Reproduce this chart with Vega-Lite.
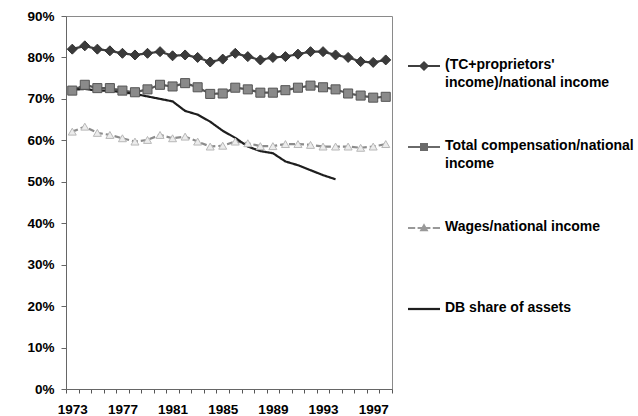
{
  "$schema": "https://vega.github.io/schema/vega-lite/v6.json",
  "width": 326,
  "height": 373,
  "autosize": {"type": "none"},
  "padding": {"left": 66, "top": 16, "right": 246, "bottom": 27},
  "background": "white",
  "config": {"view": {"stroke": "#8a8a8a", "strokeWidth": 1}, "font": "Liberation Sans"},
  "data": {"values": [
    {"y":1973,"s":"TCP","v":0.820},{"y":1974,"s":"TCP","v":0.828},{"y":1975,"s":"TCP","v":0.820},{"y":1976,"s":"TCP","v":0.816},{"y":1977,"s":"TCP","v":0.810},{"y":1978,"s":"TCP","v":0.806},{"y":1979,"s":"TCP","v":0.810},{"y":1980,"s":"TCP","v":0.814},{"y":1981,"s":"TCP","v":0.804},{"y":1982,"s":"TCP","v":0.806},{"y":1983,"s":"TCP","v":0.800},{"y":1984,"s":"TCP","v":0.789},{"y":1985,"s":"TCP","v":0.796},{"y":1986,"s":"TCP","v":0.810},{"y":1987,"s":"TCP","v":0.802},{"y":1988,"s":"TCP","v":0.794},{"y":1989,"s":"TCP","v":0.800},{"y":1990,"s":"TCP","v":0.802},{"y":1991,"s":"TCP","v":0.808},{"y":1992,"s":"TCP","v":0.814},{"y":1993,"s":"TCP","v":0.814},{"y":1994,"s":"TCP","v":0.806},{"y":1995,"s":"TCP","v":0.800},{"y":1996,"s":"TCP","v":0.790},{"y":1997,"s":"TCP","v":0.788},{"y":1998,"s":"TCP","v":0.794},
    {"y":1973,"s":"TC","v":0.720},{"y":1974,"s":"TC","v":0.734},{"y":1975,"s":"TC","v":0.726},{"y":1976,"s":"TC","v":0.726},{"y":1977,"s":"TC","v":0.720},{"y":1978,"s":"TC","v":0.716},{"y":1979,"s":"TC","v":0.723},{"y":1980,"s":"TC","v":0.734},{"y":1981,"s":"TC","v":0.730},{"y":1982,"s":"TC","v":0.738},{"y":1983,"s":"TC","v":0.728},{"y":1984,"s":"TC","v":0.712},{"y":1985,"s":"TC","v":0.713},{"y":1986,"s":"TC","v":0.727},{"y":1987,"s":"TC","v":0.723},{"y":1988,"s":"TC","v":0.715},{"y":1989,"s":"TC","v":0.715},{"y":1990,"s":"TC","v":0.721},{"y":1991,"s":"TC","v":0.727},{"y":1992,"s":"TC","v":0.732},{"y":1993,"s":"TC","v":0.728},{"y":1994,"s":"TC","v":0.723},{"y":1995,"s":"TC","v":0.713},{"y":1996,"s":"TC","v":0.708},{"y":1997,"s":"TC","v":0.703},{"y":1998,"s":"TC","v":0.705},
    {"y":1973,"s":"W","v":0.621},{"y":1974,"s":"W","v":0.633},{"y":1975,"s":"W","v":0.618},{"y":1976,"s":"W","v":0.613},{"y":1977,"s":"W","v":0.605},{"y":1978,"s":"W","v":0.597},{"y":1979,"s":"W","v":0.601},{"y":1980,"s":"W","v":0.613},{"y":1981,"s":"W","v":0.605},{"y":1982,"s":"W","v":0.609},{"y":1983,"s":"W","v":0.597},{"y":1984,"s":"W","v":0.585},{"y":1985,"s":"W","v":0.587},{"y":1986,"s":"W","v":0.597},{"y":1987,"s":"W","v":0.593},{"y":1988,"s":"W","v":0.586},{"y":1989,"s":"W","v":0.586},{"y":1990,"s":"W","v":0.591},{"y":1991,"s":"W","v":0.591},{"y":1992,"s":"W","v":0.589},{"y":1993,"s":"W","v":0.585},{"y":1994,"s":"W","v":0.585},{"y":1995,"s":"W","v":0.585},{"y":1996,"s":"W","v":0.582},{"y":1997,"s":"W","v":0.585},{"y":1998,"s":"W","v":0.591},
    {"y":1973,"s":"DB","v":0.722},{"y":1974,"s":"DB","v":0.724},{"y":1975,"s":"DB","v":0.720},{"y":1976,"s":"DB","v":0.720},{"y":1977,"s":"DB","v":0.716},{"y":1978,"s":"DB","v":0.712},{"y":1979,"s":"DB","v":0.706},{"y":1980,"s":"DB","v":0.700},{"y":1981,"s":"DB","v":0.694},{"y":1982,"s":"DB","v":0.671},{"y":1983,"s":"DB","v":0.662},{"y":1984,"s":"DB","v":0.645},{"y":1985,"s":"DB","v":0.623},{"y":1986,"s":"DB","v":0.606},{"y":1987,"s":"DB","v":0.585},{"y":1988,"s":"DB","v":0.574},{"y":1989,"s":"DB","v":0.569},{"y":1990,"s":"DB","v":0.549},{"y":1991,"s":"DB","v":0.540},{"y":1992,"s":"DB","v":0.528},{"y":1993,"s":"DB","v":0.516},{"y":1994,"s":"DB","v":0.506}
  ]},
  "encoding": {
    "x": {
      "field": "y", "type": "quantitative",
      "scale": {"domain": [1972.5, 1998.5], "nice": false, "zero": false},
      "axis": {
        "title": null, "grid": false,
        "values": [1972.5,1973,1973.5,1974,1974.5,1975,1975.5,1976,1976.5,1977,1977.5,1978,1978.5,1979,1979.5,1980,1980.5,1981,1981.5,1982,1982.5,1983,1983.5,1984,1984.5,1985,1985.5,1986,1986.5,1987,1987.5,1988,1988.5,1989,1989.5,1990,1990.5,1991,1991.5,1992,1992.5,1993,1993.5,1994,1994.5,1995,1995.5,1996,1996.5,1997,1997.5,1998,1998.5],
        "labelExpr": "datum.value % 4 == 1 ? '' + datum.value : ''",
        "labelOverlap": false, "labelFlush": false,
        "labelFontSize": 13.5, "labelColor": "#000", "labelFont": "Liberation Sans", "labelFontWeight": "bold",
        "labelPadding": 9,
        "tickSize": 4, "tickColor": "#555",
        "tickOpacity": {"condition": {"test": "datum.value % 1 != 0", "value": 1}, "value": 0},
        "domainColor": "#666"
      }
    },
    "y": {
      "field": "v", "type": "quantitative",
      "scale": {"domain": [0, 0.9], "nice": false},
      "axis": {
        "title": null, "grid": false,
        "values": [0,0.1,0.2,0.3,0.4,0.5,0.6,0.7,0.8,0.9],
        "format": ".0%",
        "labelFontSize": 13.5, "labelColor": "#000", "labelFont": "Liberation Sans", "labelFontWeight": "bold",
        "labelPadding": 7, "tickSize": 5, "tickColor": "#666", "domainColor": "#666"
      }
    }
  },
  "layer": [
    {
      "mark": {"type": "line", "strokeWidth": 2.2},
      "encoding": {
        "stroke": {
          "field": "s", "type": "nominal",
          "scale": {"domain": ["TCP","TC","W","DB"], "range": ["#3f3f3f","#555555","#8c8c8c","#1e1e1e"]},
          "legend": {
            "orient": "none", "legendX": 342, "legendY": 34, "title": null, "padding": 0,
            "symbolSize": 1024, "rowPadding": 41, "gridAlign": "all",
            "labelFont": "Liberation Sans", "labelFontSize": 14, "labelFontWeight": "bold", "labelColor": "#000",
            "labelLimit": 400, "labelOffset": 5, "labelBaseline": "top",
            "labelExpr": "datum.value == 'TCP' ? [\"(TC+proprietors'\", 'income)/national income'] : datum.value == 'TC' ? ['Total compensation/national', 'income'] : datum.value == 'W' ? ['Wages/national income', ' '] : ['DB share of assets', ' ']",
            "encode": {
              "symbols": {"update": {
                "shape": {"signal": "datum.value == 'TCP' ? 'M-1,-0.07L1,-0.07L1,0.07L-1,0.07Z M0,-0.32L0.32,0L0,0.32L-0.32,0Z' : datum.value == 'TC' ? 'M-1,-0.07L1,-0.07L1,0.07L-1,0.07Z M-0.25,-0.25L0.25,-0.25L0.25,0.25L-0.25,0.25Z' : datum.value == 'W' ? 'M-1,-0.07L-0.55,-0.07L-0.55,0.07L-1,0.07Z M-0.4,-0.07L0.4,-0.07L0.4,0.07L-0.4,0.07Z M0.55,-0.07L1,-0.07L1,0.07L0.55,0.07Z M0,-0.3L0.28,0.2L-0.28,0.2Z' : 'M-1,-0.07L1,-0.07L1,0.07L-1,0.07Z'"},
                "fill": {"signal": "datum.value == 'TCP' ? '#3f3f3f' : datum.value == 'TC' ? '#6a6a6a' : datum.value == 'W' ? '#999999' : '#1e1e1e'"},
                "fillOpacity": {"value": 1},
                "strokeWidth": {"value": 0},
                "opacity": {"value": 1}
              }},
              "labels": {"update": {"dy": {"value": -8}, "lineHeight": {"value": 18}}}
            }
          }
        },
        "strokeDash": {
          "field": "s", "type": "nominal",
          "scale": {"domain": ["TCP","TC","W","DB"], "range": [[1,0],[1,0],[6,3],[1,0]]},
          "legend": null
        }
      }
    },
    {
      "transform": [{"filter": "datum.s != 'DB'"}],
      "mark": {"type": "point", "filled": true, "strokeWidth": 1, "opacity": 1},
      "encoding": {
        "shape": {"field": "s", "type": "nominal", "scale": {"domain": ["TCP","TC","W"], "range": ["diamond","square","triangle-up"]}, "legend": null},
        "fill": {"field": "s", "type": "nominal", "scale": {"domain": ["TCP","TC","W"], "range": ["#3a3a3a","#8a8a8a","#ececec"]}, "legend": null},
        "stroke": {"field": "s", "type": "nominal", "scale": {"domain": ["TCP","TC","W"], "range": ["#333333","#555555","#b8b8b8"]}, "legend": null},
        "size": {"field": "s", "type": "nominal", "scale": {"domain": ["TCP","TC","W"], "range": [100, 64, 80]}, "legend": null}
      }
    }
  ],
  "resolve": {"scale": {"stroke": "independent"}}
}
